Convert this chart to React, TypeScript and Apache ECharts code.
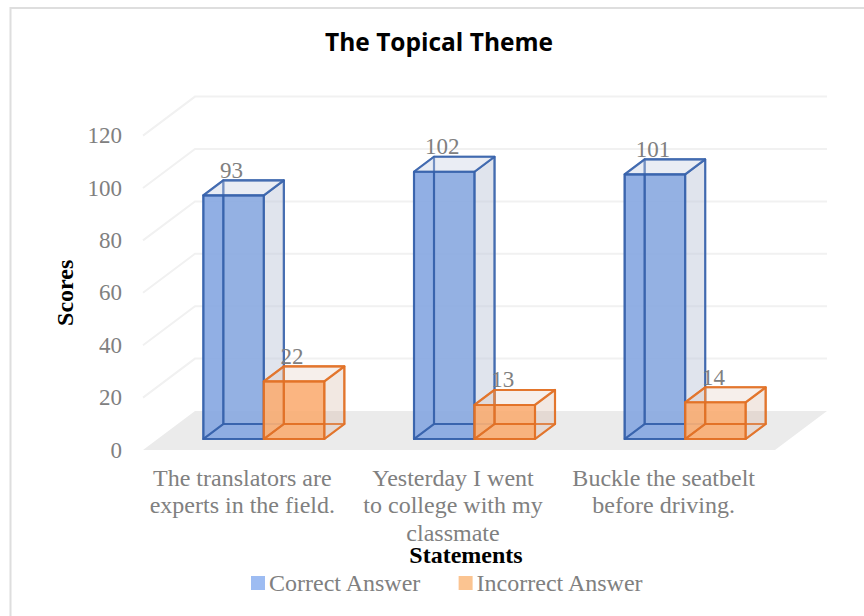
import React, { useEffect, useRef } from "react";
import * as echarts from "echarts";

const categories = [
  "The translators are\nexperts in the field.",
  "Yesterday I went\nto college with my\nclassmate",
  "Buckle the seatbelt\nbefore driving.",
];
const correctAnswers = [93, 102, 101];
const incorrectAnswers = [22, 13, 14];
const gridTicks = [20, 40, 60, 80, 100, 120];

const SERIF = '"Liberation Serif", "Times New Roman", serif';
const GREY = "#808080";

// Oblique projection: how far the far side of the plot sits from its near side.
const FLOOR_DX = 52;
const FLOOR_DY = -39;
// Each box stands a little way back from the near edge of the floor.
const BOX_INSET_X = 15.5;
const BOX_INSET_Y = -11;
const BOX_DX = 20;
const BOX_DY = -15;
const BOX_WIDTH = 60.5;

type Palette = { edge: string; front: string; side: string; top: string; base: string; back: string };

const bluePalette: Palette = {
  edge: "rgba(52,96,170,0.78)",
  front: "rgba(131,165,224,0.88)",
  side: "rgba(196,204,222,0.5)",
  top: "rgba(205,212,228,0.38)",
  base: "rgba(128,163,228,0.05)",
  back: "rgba(196,204,222,0.05)",
};
const orangePalette: Palette = {
  edge: "rgba(226,112,36,0.82)",
  front: "rgba(253,169,106,0.85)",
  side: "rgba(214,180,160,0.28)",
  top: "rgba(224,196,178,0.22)",
  base: "rgba(214,180,160,0.06)",
  back: "rgba(214,180,160,0.04)",
};

// A see-through box: the front is filled first so that the wireframe of the
// far side stays visible through it, and its outline goes on last.
function boxRenderer(palette: Palette, offset: number) {
  return (params: any, api: any) => {
    const value = api.value(1);
    const [cx, y0] = api.coord([api.value(0), 0]);
    const [, yv] = api.coord([api.value(0), value]);
    const x0 = cx + BOX_INSET_X + offset;
    const x1 = x0 + BOX_WIDTH;
    const bottom = y0 + BOX_INSET_Y;
    const top = yv + BOX_INSET_Y;
    const face = (pts: number[][], fill: string, stroke = palette.edge) => ({
      type: "polygon",
      shape: { points: pts },
      style: { fill, stroke, lineWidth: 2.1, lineJoin: "round" },
    });
    const far = (x: number, y: number) => [x + BOX_DX, y + BOX_DY];
    const frontFace = [[x0, top], [x1, top], [x1, bottom], [x0, bottom]];
    return {
      type: "group",
      children: [
        { type: "polygon", shape: { points: frontFace }, style: { fill: palette.front } },
        face([far(x0, top), far(x1, top), far(x1, bottom), far(x0, bottom)], palette.back),
        face([[x0, bottom], [x1, bottom], far(x1, bottom), far(x0, bottom)], palette.base),
        face([[x0, top], far(x0, top), far(x0, bottom), [x0, bottom]], palette.base),
        face([[x1, top], far(x1, top), far(x1, bottom), [x1, bottom]], palette.side),
        face([[x0, top], [x1, top], far(x1, top), far(x0, top)], palette.top),
        face(frontFace, "none"),
        {
          type: "text",
          z2: 50,
          style: {
            x: x0 + BOX_WIDTH / 2 - 2,
            y: top - 25,
            text: String(value),
            fill: GREY,
            font: `23px ${SERIF}`,
            align: "center",
            verticalAlign: "middle",
          },
        },
      ],
    };
  };
}

const renderFloor = (params: any, api: any) => {
  const { x, width } = params.coordSys;
  const [, y] = api.coord([0, 0]);
  return {
    type: "polygon",
    shape: {
      points: [
        [x, y],
        [x + width, y],
        [x + width + FLOOR_DX, y + FLOOR_DY],
        [x + FLOOR_DX, y + FLOOR_DY],
      ],
    },
    style: { fill: "#ebebeb" },
  };
};

const renderGridLine = (params: any, api: any) => {
  const { x, width } = params.coordSys;
  const [, y] = api.coord([0, api.value(0)]);
  return {
    type: "polyline",
    shape: {
      points: [
        [x, y],
        [x + FLOOR_DX, y + FLOOR_DY],
        [x + width + FLOOR_DX, y + FLOOR_DY],
      ],
    },
    style: { fill: "none", stroke: "#f1f1f1", lineWidth: 2 },
  };
};

export default function App() {
  const ref = useRef<HTMLDivElement>(null);

  useEffect(() => {
    const chart = echarts.init(ref.current!, undefined, { renderer: "svg" });
    chart.setOption({
      animation: false,
      backgroundColor: "#ffffff",
      title: {
        text: "The Topical Theme",
        left: 434,
        top: 24,
        textAlign: "center",
        textStyle: {
          fontFamily: '"Open Sans", sans-serif',
          fontWeight: "bold",
          fontSize: 24.5,
          color: "#000000",
        },
      },
      legend: {
        data: ["Correct Answer", "Incorrect Answer"],
        left: 246,
        top: 566,
        icon: "rect",
        itemWidth: 14,
        itemHeight: 14,
        itemGap: 37,
        textStyle: { fontFamily: SERIF, fontSize: 24, color: GREY, padding: [0, 0, 0, -1] },
      },
      grid: { left: 143, top: 135.6, width: 632, height: 314.4 },
      xAxis: {
        type: "category",
        data: categories,
        name: "Statements",
        nameLocation: "middle",
        nameGap: 97,
        nameMoveOverlap: false,
        nameTextStyle: {
          fontFamily: SERIF,
          fontWeight: "bold",
          fontSize: 24,
          lineHeight: 16,
          color: "#000000",
          padding: [0, 0, 0, 14],
        },
        axisLine: { show: false },
        axisTick: { show: false },
        splitLine: { show: false },
        axisLabel: {
          interval: 0,
          margin: 14,
          fontFamily: SERIF,
          fontSize: 24,
          lineHeight: 27.5,
          color: GREY,
          padding: [0, 12, 0, 0],
        },
      },
      yAxis: {
        type: "value",
        min: 0,
        max: 120,
        interval: 20,
        name: "Scores",
        nameLocation: "middle",
        nameGap: 66,
        nameRotate: 90,
        nameMoveOverlap: false,
        nameTextStyle: {
          fontFamily: SERIF,
          fontWeight: "bold",
          fontSize: 24,
          color: "#000000",
        },
        axisLine: { show: false },
        axisTick: { show: false },
        splitLine: { show: false },
        axisLabel: { margin: 21, fontFamily: SERIF, fontSize: 23, color: GREY },
      },
      series: [
        {
          type: "custom",
          name: "floor",
          coordinateSystem: "cartesian2d",
          data: [[0]],
          encode: { y: 0 },
          renderItem: renderFloor,
          silent: true,
          z: 1,
        },
        {
          type: "custom",
          name: "gridlines",
          coordinateSystem: "cartesian2d",
          data: gridTicks.map((t) => [t]),
          encode: { y: 0 },
          renderItem: renderGridLine,
          silent: true,
          z: 2,
        },
        {
          type: "custom",
          name: "Correct Answer",
          coordinateSystem: "cartesian2d",
          data: correctAnswers.map((v, i) => [i, v]),
          encode: { x: 0, y: 1 },
          itemStyle: { color: "#9dbcf2" },
          renderItem: boxRenderer(bluePalette, -BOX_WIDTH),
          z: 3,
        },
        {
          type: "custom",
          name: "Incorrect Answer",
          coordinateSystem: "cartesian2d",
          data: incorrectAnswers.map((v, i) => [i, v]),
          encode: { x: 0, y: 1 },
          itemStyle: { color: "#fbc491" },
          renderItem: boxRenderer(orangePalette, 0),
          z: 4,
        },
      ],
      graphic: [
        {
          type: "polyline",
          silent: true,
          shape: { points: [[10.5, 616], [10.5, 8], [864, 8]] },
          style: { fill: "none", stroke: "#dedede", lineWidth: 2 },
        },
      ],
    });
    return () => chart.dispose();
  }, []);

  return (
    <div
      ref={ref}
      style={{ position: "fixed", left: 0, top: 0, width: 864, height: 616 }}
    />
  );
}
